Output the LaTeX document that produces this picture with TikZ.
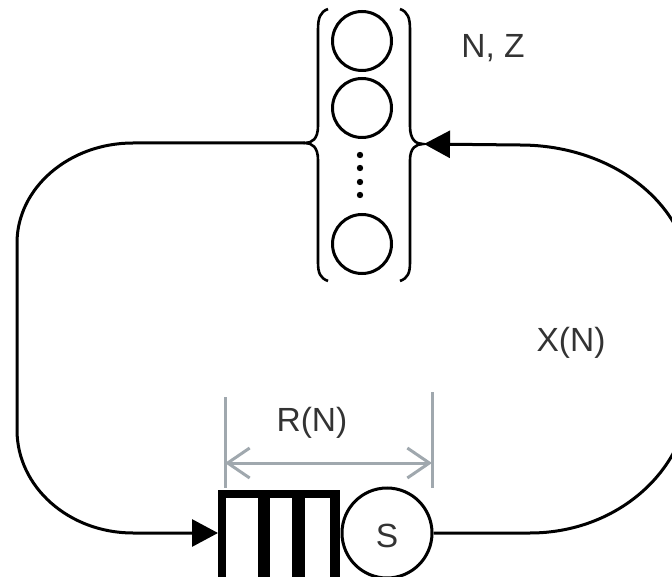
\documentclass[tikz,border=0pt]{standalone}
\usepackage{fontspec}
\setmainfont{Liberation Sans}
\usetikzlibrary{arrows.meta}
\definecolor{dimgray}{HTML}{A0A8AE}
\definecolor{txt}{HTML}{333333}
\tikzset{
  line/.style={line width=3pt, black},
  lbl/.style={text=txt, font=\fontsize{33.5}{40}\selectfont, inner sep=0pt},
  station/.style={circle, draw, line width=3pt, minimum size=59pt, inner sep=0pt},
  dim/.style={line width=3pt, dimgray},
  tip/.style={-{Triangle[length=26pt,width=27pt]}},
}
\begin{document}
\begin{tikzpicture}[x=1pt,y=-1pt]
\useasboundingbox (0,0) rectangle (672,577);
\clip (0,0) rectangle (672,577);
% delay stations
\node[station] (c1) at (362,41) {};
\node[station] (c2) at (362,108) {};
\node[station] (c3) at (362,244) {};
\foreach \yy in {155,168,182,195} \fill (360,\yy) circle (3.2);
% braces
\coordinate (lt) at (305,143);
\coordinate (rt) at (423,144);
\draw[line, line width=2.6pt] (328,9) .. controls (320,12) and (318,18) .. (318,30) -- (318,126)
  .. controls (318,139) and (312,143) .. (lt)
  .. controls (312,143) and (318,147) .. (318,160) -- (318,262)
  .. controls (318,273) and (320,278) .. (328,281);
\draw[line, line width=2.6pt] (400,9) .. controls (408,12) and (410,18) .. (410,30) -- (410,126)
  .. controls (410,140) and (416,144) .. (rt)
  .. controls (416,144) and (410,148) .. (410,160) -- (410,262)
  .. controls (410,273) and (408,278) .. (400,281);
% queue
\node[fill=black, minimum width=122pt, minimum height=96pt, inner sep=0pt, anchor=north west] (q) at (218,490) {};
\fill[white] (226,498) rectangle (258,590);
\fill[white] (270,498) rectangle (292,590);
\fill[white] (305,498) rectangle (330,590);
\node[station, minimum size=90pt, fill=white] (s) at (387,533) {};
\node[lbl] at (387,536) {S};
% loop
\draw[line, tip] (lt) -- (133,143) .. controls (69,143) and (17,188) .. (17,243)
  -- (17,430) .. controls (17,487) and (69,533) .. (133,533) -- (q.west |- 0,533);
\draw[line, tip] (s.east) -- (530,533) .. controls (618,533) and (690,469) .. (690,389)
  -- (690,281) .. controls (690,206) and (614,145) .. (520,145) -- ([xshift=1pt]rt);
% dimension R(N)
\draw[dim] (225,397) -- (225,488);
\draw[dim] (432,392) -- (432,488);
\draw[dim, {Straight Barb[length=22pt,width=30pt]}-{Straight Barb[length=22pt,width=30pt]}] (225,463) -- (432,463);
% labels
\node[lbl] (rn) at (312,423) {R(N)};
\node[lbl] (xn) at (571,343) {X(N)};
\node[lbl] (nz) at (493,48) {N, Z};
\end{tikzpicture}
\end{document}
